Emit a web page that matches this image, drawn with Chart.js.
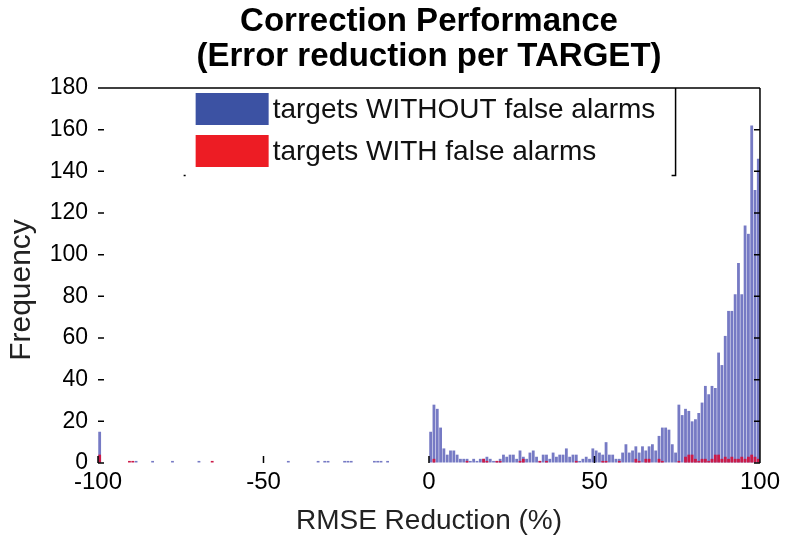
<!DOCTYPE html>
<html lang="en">
<head>
<meta charset="UTF-8">
<title>Correction Performance</title>
<script src="https://cdn.jsdelivr.net/npm/chart.js"></script>
<style>
  html, body { margin: 0; padding: 0; background: #fff; }
  #wrap { width: 785px; height: 539px; }
</style>
</head>
<body>
<div id="wrap"><canvas id="grafico" width="785" height="539"></canvas></div>
<script>
    // bins of 1 % from -100 to 100
    var binStart = -100;
    var binCount = 200;

    var titulo = ["Correction Performance", "(Error reduction per TARGET)"];
    var tituloX = "RMSE Reduction (%)";
    var tituloY = "Frequency";
    var legendLabels = ["targets WITHOUT false alarms", "targets WITH false alarms"];
    var xTicks = [-100, -50, 0, 50, 100];
    var yTicks = [0, 20, 40, 60, 80, 100, 120, 140, 160, 180];

    // targets WITHOUT false alarms, -100 .. 99
    var semAlarme = [
        15, 0, 0, 0, 0, 0, 0, 0, 0, 0, 0, 1, 0, 0, 0, 0, 1, 0, 0, 0,
        0, 0, 1, 0, 0, 0, 0, 0, 0, 0, 1, 0, 0, 0, 0, 0, 0, 0, 0, 0,
        0, 0, 0, 0, 0, 0, 0, 0, 0, 0, 0, 0, 0, 0, 0, 0, 0, 1, 0, 0,
        0, 0, 0, 0, 0, 0, 1, 0, 1, 1, 0, 0, 0, 0, 1, 1, 1, 0, 0, 0,
        0, 0, 0, 1, 1, 1, 0, 1, 0, 0, 0, 0, 0, 0, 0, 0, 0, 0, 0, 0,
        15, 28, 26, 17, 7, 4, 6, 6, 4, 2, 2, 2, 1, 2, 1, 2, 2, 3, 2, 1,
        1, 2, 4, 3, 4, 4, 2, 6, 3, 2, 5, 6, 3, 1, 4, 4, 2, 5, 3, 4,
        4, 7, 3, 4, 4, 1, 2, 3, 2, 7, 6, 5, 4, 10, 4, 4, 2, 2, 5, 9,
        5, 6, 8, 5, 8, 6, 8, 9, 6, 13, 17, 17, 16, 9, 5, 28, 23, 26, 25, 20,
        21, 24, 29, 37, 33, 37, 36, 53, 47, 61, 73, 73, 81, 96, 81, 114, 110, 162, 131, 146
    ];

    // targets WITH false alarms, -100 .. 99
    var comAlarme = [
        4, 0, 0, 0, 0, 0, 0, 0, 0, 1, 1, 0, 0, 0, 0, 0, 0, 0, 0, 0,
        0, 0, 0, 0, 0, 0, 0, 0, 0, 0, 0, 0, 0, 0, 1, 0, 0, 0, 0, 0,
        0, 0, 0, 0, 0, 0, 0, 0, 0, 0, 0, 0, 0, 0, 0, 0, 0, 0, 0, 0,
        0, 0, 0, 0, 0, 0, 0, 0, 0, 0, 0, 0, 0, 0, 0, 0, 0, 0, 0, 0,
        0, 0, 0, 0, 0, 0, 0, 0, 0, 0, 0, 0, 0, 0, 0, 0, 0, 0, 0, 0,
        0, 2, 0, 0, 0, 0, 0, 0, 0, 0, 0, 1, 0, 0, 0, 0, 2, 1, 0, 0,
        1, 1, 0, 0, 0, 0, 0, 1, 2, 0, 0, 0, 0, 1, 0, 1, 0, 0, 0, 0,
        0, 0, 0, 0, 1, 0, 0, 0, 0, 0, 0, 0, 1, 1, 0, 0, 0, 1, 0, 0,
        0, 0, 2, 1, 0, 2, 2, 0, 0, 2, 1, 0, 0, 0, 0, 1, 0, 3, 4, 4,
        2, 1, 2, 2, 1, 2, 4, 4, 2, 3, 2, 3, 2, 2, 3, 2, 3, 4, 3, 2
    ];

    var corAzul = "rgb(118,122,196)";
    var corVermelha = "rgb(204,26,72)";
    var corLegendaAzul = "rgb(60,82,163)";
    var corLegendaVermelha = "rgb(237,28,36)";
    var fonte = "'Liberation Sans', Arial, Helvetica, sans-serif";

    function montarPontos(valores) {
        var pontos = [];
        for (var i = 0; i < binCount; i++) {
            pontos.push({ x: binStart + i + 0.5, y: valores[i] });
        }
        return pontos;
    }

    // titles, frame, inward ticks and the legend box
    var moldura = {
        id: "moldura",
        afterDraw: function (chart) {
            var ctx = chart.ctx;
            var area = chart.chartArea;
            var sx = chart.scales.x;
            var sy = chart.scales.y;
            var meio = (area.left + area.right) / 2;

            ctx.save();
            ctx.fillStyle = "#000";
            ctx.textAlign = "center";
            ctx.textBaseline = "middle";
            ctx.font = "bold 33px " + fonte;
            ctx.fillText(titulo[0], meio, 22);
            ctx.fillText(titulo[1], meio, 57);

            ctx.fillStyle = "#222";
            ctx.font = "28px " + fonte;
            ctx.fillText(tituloX, meio, 521);
            ctx.save();
            ctx.translate(22, 290);
            ctx.rotate(-Math.PI / 2);
            ctx.font = "30px " + fonte;
            ctx.fillText(tituloY, 0, 0);
            ctx.restore();

            ctx.strokeStyle = "#000";
            ctx.lineWidth = 1.5;
            ctx.beginPath();
            ctx.moveTo(area.left, area.top);
            ctx.lineTo(area.right, area.top);
            ctx.moveTo(area.right, area.top);
            ctx.lineTo(area.right, area.bottom);
            yTicks.forEach(function (t) {
                var py = sy.getPixelForValue(t);
                ctx.moveTo(area.left, py);
                ctx.lineTo(area.left + 6, py);
                ctx.moveTo(area.right, py);
                ctx.lineTo(area.right - 6, py);
            });
            xTicks.forEach(function (t) {
                var px = sx.getPixelForValue(t);
                ctx.moveTo(px, area.bottom);
                ctx.lineTo(px, area.bottom - 7);
            });
            ctx.stroke();

            // legend
            var lx = sx.getPixelForValue(-70.5);
            var rx = sx.getPixelForValue(74.5);
            var by = sy.getPixelForValue(138);
            ctx.beginPath();
            ctx.moveTo(rx, area.top);
            ctx.lineTo(rx, by);
            ctx.lineTo(rx - 4, by);
            ctx.moveTo(lx - 12, by);
            ctx.lineTo(lx - 10, by);
            ctx.stroke();

            var cores = [corLegendaAzul, corLegendaVermelha];
            var sw = 73, sh = 32, gap = 42;
            var y0 = area.top + 5;
            ctx.font = "28px " + fonte;
            ctx.textAlign = "left";
            for (var i = 0; i < legendLabels.length; i++) {
                var yy = y0 + i * gap;
                ctx.fillStyle = cores[i];
                ctx.fillRect(lx, yy, sw, sh);
                ctx.fillStyle = "#111";
                ctx.fillText(legendLabels[i], lx + sw + 4, yy + sh / 2 + 1);
            }
            ctx.restore();
        }
    };

    const grafico = document.getElementById("grafico");
    new Chart(grafico, {
        type: "bar",
        data: {
            datasets: [{
                label: legendLabels[1],
                data: montarPontos(comAlarme),
                backgroundColor: corVermelha,
                grouped: false
            }, {
                label: legendLabels[0],
                data: montarPontos(semAlarme),
                backgroundColor: corAzul,
                grouped: false
            }]
        },
        options: {
            responsive: false,
            animation: false,
            maintainAspectRatio: false,
            barPercentage: 1,
            categoryPercentage: 0.85,
            layout: {
                padding: { left: 0, right: 20, top: 88, bottom: 0 }
            },
            plugins: {
                legend: { display: false },
                tooltip: { enabled: false },
                title: { display: false }
            },
            scales: {
                x: {
                    type: "linear",
                    min: -100,
                    max: 100,
                    offset: false,
                    afterFit: function (s) { s.height = 76; },
                    afterBuildTicks: function (s) { s.ticks = xTicks.map(function (v) { return { value: v }; }); },
                    ticks: {
                        color: "#000",
                        padding: 5,
                        maxRotation: 0,
                        font: { family: fonte, size: 24 }
                    },
                    grid: { display: true, drawOnChartArea: false, drawTicks: false },
                    border: { display: false }
                },
                y: {
                    min: 0,
                    max: 180,
                    afterFit: function (s) { s.width = 98; },
                    afterBuildTicks: function (s) { s.ticks = yTicks.map(function (v) { return { value: v }; }); },
                    ticks: {
                        color: "#000",
                        padding: 10,
                        font: { family: fonte, size: 23 }
                    },
                    grid: { display: true, drawOnChartArea: false, drawTicks: false },
                    border: { display: false }
                }
            }
        },
        plugins: [moldura]
    });
</script>
</body>
</html>
